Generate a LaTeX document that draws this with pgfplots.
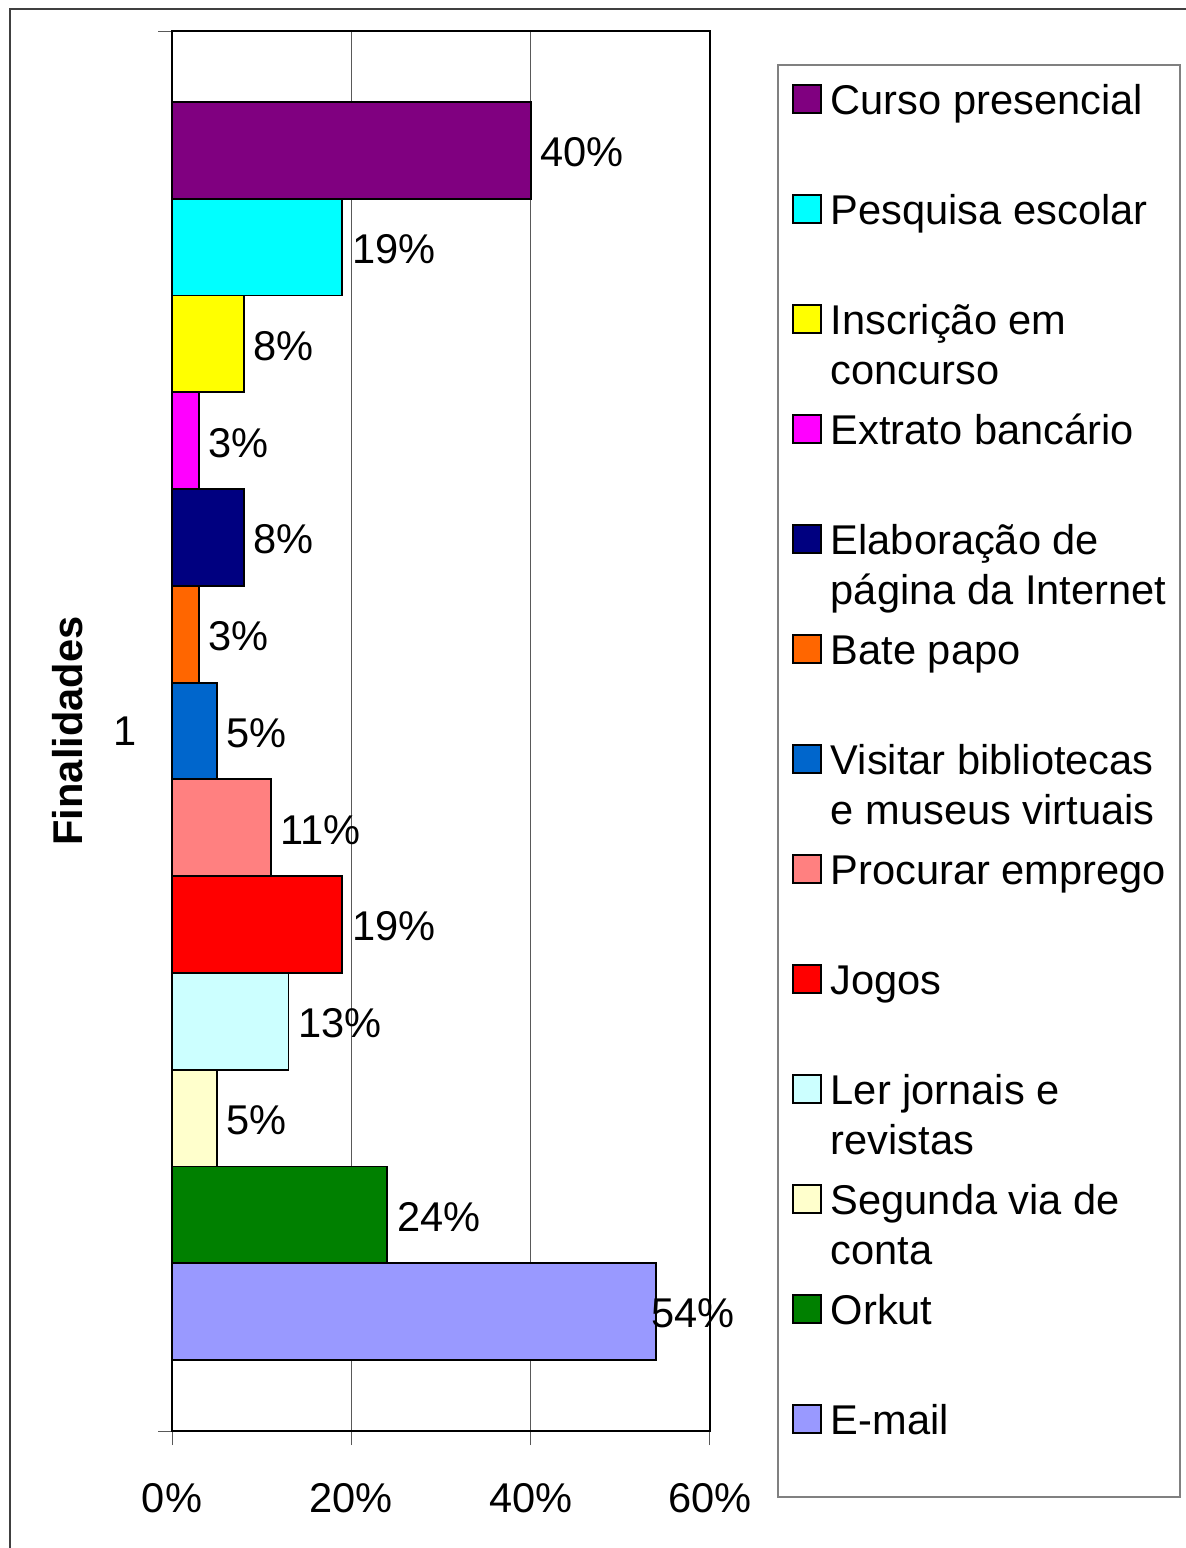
\documentclass[border=0pt]{standalone}
\usepackage{fontspec}
\setmainfont{Liberation Sans}
\usepackage{pgfplots}
\pgfplotsset{compat=1.18}
\definecolor{cCurso}{HTML}{800080}
\definecolor{cPesq}{HTML}{00FFFF}
\definecolor{cInsc}{HTML}{FFFF00}
\definecolor{cExtr}{HTML}{FF00FF}
\definecolor{cElab}{HTML}{000080}
\definecolor{cBate}{HTML}{FF6600}
\definecolor{cVisi}{HTML}{0066CC}
\definecolor{cProc}{HTML}{FF8080}
\definecolor{cJogo}{HTML}{FF0000}
\definecolor{cLer}{HTML}{CCFFFF}
\definecolor{cSeg}{HTML}{FFFFCC}
\definecolor{cOrk}{HTML}{008000}
\definecolor{cMail}{HTML}{9999FF}
\newcommand{\F}{\fontsize{20.8}{25}\selectfont}
\newcommand{\LE}[1]{\parbox[t][55pt][t]{185pt}{\F\strut #1}}
\pgfplotsset{
  B/.style={xbar, fill=#1, draw=black, line width=0.9pt, bar shift=0pt, bar width=1,
    legend image code/.code={\draw[##1, line width=0.9pt] (0pt,0.5pt) rectangle (14pt,14.5pt); \path (18.5pt,0pt);}},
}
\begin{document}
\begin{tikzpicture}
\useasboundingbox (0pt,0pt) rectangle (593pt,774pt);
\begin{axis}[
  at={(86pt,58.5pt)}, anchor=south west,
  scale only axis, width=269pt, height=700pt,
  xbar,
  xmin=0, xmax=60, ymin=-0.2335, ymax=14.2335,
  y dir=reverse,
  xtick={0,20,40,60}, xticklabels={0\%,20\%,40\%,60\%},
  ytick={-0.2335,14.2335}, yticklabels={},
  extra y ticks={7}, extra y tick labels={1},
  extra y tick style={major tick length=0pt},
  xtick pos=left, ytick pos=left,
  tick align=outside, major tick length=7pt,
  tick style={gray!70!black, line width=0.5pt},
  xmajorgrids, grid style={gray!70!black, line width=0.5pt},
  axis line style={line width=1pt},
  xticklabel style={font=\F, anchor=north, inner sep=0pt, yshift=-18.9pt},
  yticklabel style={font=\F, anchor=east, inner sep=0pt, xshift=-17.7pt},
  ylabel={Finalidades},
  ylabel style={font=\F\bfseries, at={(axis description cs:-0.1933,0.5)}, anchor=center},
  /pgf/number format/assume math mode=true,
  point meta=x,
  nodes near coords={\pgfmathprintnumber{\pgfplotspointmeta}\%},
  nodes near coords style={font=\F, anchor=west, inner sep=0pt, xshift=4.5pt, yshift=-1pt},
  legend style={at={(axis description cs:1.152416,0.965714)}, anchor=north west,
    draw=none, fill=none, inner sep=0pt, outer sep=0pt, row sep=0pt, column sep=0pt,
    cells={anchor=base west}, nodes={inner sep=0pt, text depth=}, font=\F},
]
\addplot[B=cCurso] coordinates {(40,1)};
\addlegendentry{\LE{Curso presencial}}
\addplot[B=cPesq] coordinates {(19,2)};
\addlegendentry{\LE{Pesquisa escolar}}
\addplot[B=cInsc] coordinates {(8,3)};
\addlegendentry{\LE{Inscrição em\newline concurso}}
\addplot[B=cExtr] coordinates {(3,4)};
\addlegendentry{\LE{Extrato bancário}}
\addplot[B=cElab] coordinates {(8,5)};
\addlegendentry{\LE{Elaboração de\newline página da Internet}}
\addplot[B=cBate] coordinates {(3,6)};
\addlegendentry{\LE{Bate papo}}
\addplot[B=cVisi] coordinates {(5,7)};
\addlegendentry{\LE{Visitar bibliotecas\newline e museus virtuais}}
\addplot[B=cProc] coordinates {(11,8)};
\addlegendentry{\LE{Procurar emprego}}
\addplot[B=cJogo] coordinates {(19,9)};
\addlegendentry{\LE{Jogos}}
\addplot[B=cLer] coordinates {(13,10)};
\addlegendentry{\LE{Ler jornais e\newline revistas}}
\addplot[B=cSeg] coordinates {(5,11)};
\addlegendentry{\LE{Segunda via de\newline conta}}
\addplot[B=cOrk] coordinates {(24,12)};
\addlegendentry{\LE{Orkut}}
\addplot[B=cMail, nodes near coords style={xshift=-7.5pt}] coordinates {(54,13)};
\addlegendentry{\LE{E-mail}}
\end{axis}
\draw[gray, line width=0.75pt] (389pt,25.5pt) rectangle (590pt,741.5pt);
\draw[gray!50!black, line width=1pt] (5pt,-2pt) rectangle (596pt,769.5pt);
\end{tikzpicture}
\end{document}
